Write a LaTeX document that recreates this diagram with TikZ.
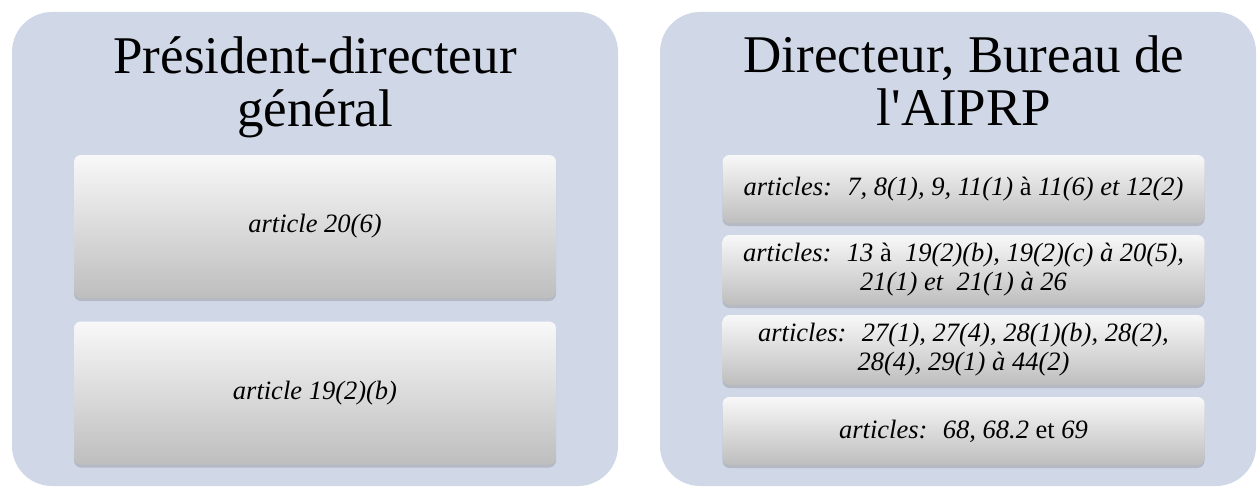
\documentclass[tikz,border=0pt]{standalone}
\usepackage{fontspec}
\setmainfont{Liberation Serif}
\usetikzlibrary{shadows}

\definecolor{panelblue}{RGB}{208,216,232}
\definecolor{boxtop}{RGB}{248,248,248}
\definecolor{boxbottom}{RGB}{190,190,190}

\tikzset{
  panel/.style={fill=panelblue, rounded corners=40pt, inner sep=0pt,
    minimum height=474pt},
  heading/.style={align=center, inner sep=0pt, anchor=north,
    font=\fontsize{53}{53}\selectfont},
  artbox/.style={rounded corners=7pt, top color=boxtop, bottom color=boxbottom,
    minimum width=482pt, inner sep=0pt, align=center,
    drop shadow={shadow xshift=0pt, shadow yshift=-3pt, opacity=.35},
    font=\fontsize{26.5}{29}\selectfont\itshape},
}

\begin{document}
\begin{tikzpicture}[x=1pt, y=-1pt]
      \useasboundingbox (0, 0) rectangle (1260, 487);

      % President-directeur general
      \node[panel, minimum width=606pt] (pdg) at (315, 249) {};
      \node[heading] (pdgtitle) at (315, 36) {Président-directeur\\général};
      \node[artbox, minimum height=143pt] (pdgA) at (315, 226.5) {article 20(6)};
      \node[artbox, minimum height=143pt] (pdgB) at (315, 393) {article 19(2)(b)};

      % Directeur, Bureau de l'AIPRP
      \node[panel, minimum width=596pt] (dir) at (958, 249) {};
      \node[heading] (dirtitle) at (964, 36) {Directeur, Bureau de\\l\textquotesingle AIPRP};
      \node[artbox, minimum height=68pt] (dirA) at (963.5, 189)
        {articles:~ 7, 8(1), 9, 11(1) {\upshape à} 11(6) et 12(2)};
      \node[artbox, minimum height=70pt] (dirB) at (963.5, 270)
        {articles:~ 13 {\upshape à}~ 19(2)(b), 19(2)(c) à 20(5),\\21(1) et~ 21(1) à 26};
      \node[artbox, minimum height=70pt] (dirC) at (963.5, 350)
        {articles:~ 27(1), 27(4), 28(1)(b), 28(2),\\28(4), 29(1) à 44(2)};
      \node[artbox, minimum height=68pt] (dirD) at (963.5, 431)
        {articles:~ 68, 68.2 {\upshape et} 69};
    \end{tikzpicture}
\end{document}
